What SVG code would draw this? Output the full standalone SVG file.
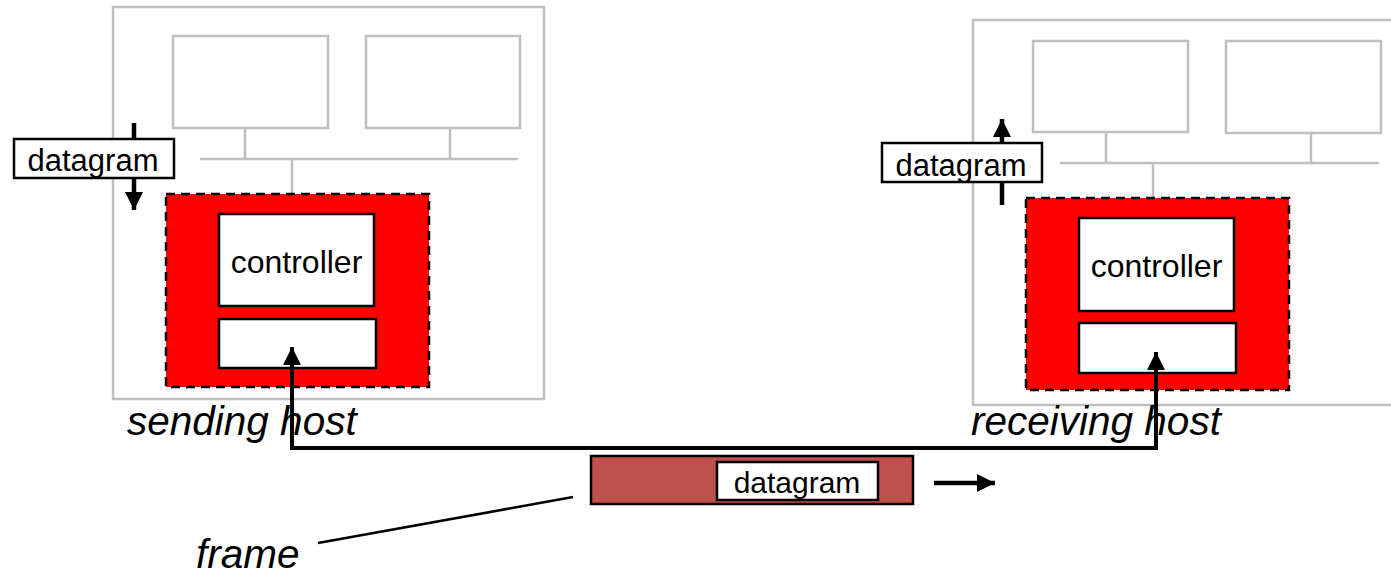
<svg xmlns="http://www.w3.org/2000/svg" width="1391" height="577" viewBox="0 0 1391 577">
<defs>
<style>
.host{fill:#fff;stroke:#BFBFBF;stroke-width:2.5}
.bus{fill:none;stroke:#BFBFBF;stroke-width:2.5}
.nic{fill:#FF0000;stroke:#000;stroke-width:2.5;stroke-dasharray:9 6}
.wb{fill:#fff;stroke:#000;stroke-width:2.5}
.lbl{font-family:"Liberation Sans",Arial,sans-serif;fill:#000}
.it{font-family:"Liberation Sans",Arial,sans-serif;font-style:italic;fill:#000;font-size:40.5px}
.wire{fill:none;stroke:#000;stroke-width:4}
.arr{fill:none;stroke:#000;stroke-width:4.5}
</style>
<marker id="ah" viewBox="0 0 10 10" refX="10" refY="5" markerUnits="userSpaceOnUse" markerWidth="18" markerHeight="18" orient="auto-start-reverse">
<path d="M0,0 L10,5 L0,10 z" fill="#000"/>
</marker>
</defs>

<g id="sending-host">
<rect class="host" x="113" y="7" width="431" height="392"/>
<rect class="host" x="173" y="36" width="155" height="92"/>
<rect class="host" x="366" y="36" width="154" height="92"/>
<path class="bus" d="M200,159 H518 M245,128 V159 M450,128 V159 M292,159 V214"/>
<rect class="nic" x="166" y="194" width="263" height="193"/>
<rect class="wb" x="219" y="214" width="155" height="92"/>
<text class="lbl" x="296.5" y="273" font-size="32" text-anchor="middle">controller</text>
<rect class="wb" x="219" y="319" width="157" height="49"/>
<text class="it" x="127" y="435">sending host</text>
</g>

<g id="receiving-host">
<path class="host" d="M1393,20 H973 V405 H1393"/>
<rect class="host" x="1033" y="41" width="155" height="91"/>
<rect class="host" x="1226" y="41" width="155" height="92"/>
<path class="bus" d="M1060,163 H1379 M1106,132 V163 M1311,133 V163 M1153,163 V218"/>
<rect class="nic" x="1026" y="198" width="263" height="192"/>
<rect class="wb" x="1079" y="218" width="155" height="93"/>
<text class="lbl" x="1156.5" y="277" font-size="32" text-anchor="middle">controller</text>
<rect class="wb" x="1079" y="323" width="157" height="50"/>
<text class="it" x="971" y="435" font-size="41">receiving host</text>
</g>

<g id="connectors">
<path class="wire" d="M292,347 V448 H1156 V352" marker-start="url(#ah)" marker-end="url(#ah)"/>
<path class="arr" d="M134,123 V210" marker-end="url(#ah)"/>
<path class="arr" d="M1002,205 V119" marker-end="url(#ah)"/>
<path class="arr" d="M934,483 H995" marker-end="url(#ah)"/>
<path d="M573,497 L318,543" fill="none" stroke="#000" stroke-width="2.5"/>
</g>

<g id="datagram-send">
<rect class="wb" x="14" y="139" width="160" height="39"/>
<text class="lbl" x="93" y="171" font-size="31" text-anchor="middle">datagram</text>
</g>

<g id="datagram-recv">
<rect class="wb" x="882" y="143" width="160" height="39"/>
<text class="lbl" x="961" y="176" font-size="31" text-anchor="middle">datagram</text>
</g>

<g id="frame">
<rect x="591" y="456" width="322" height="48" fill="#C0504D" stroke="#000" stroke-width="2.5"/>
<rect class="wb" x="717" y="462" width="161" height="38"/>
<text class="lbl" x="797" y="493" font-size="30" text-anchor="middle">datagram</text>
<text class="it" x="196" y="568" font-size="43">frame</text>
</g>
</svg>
